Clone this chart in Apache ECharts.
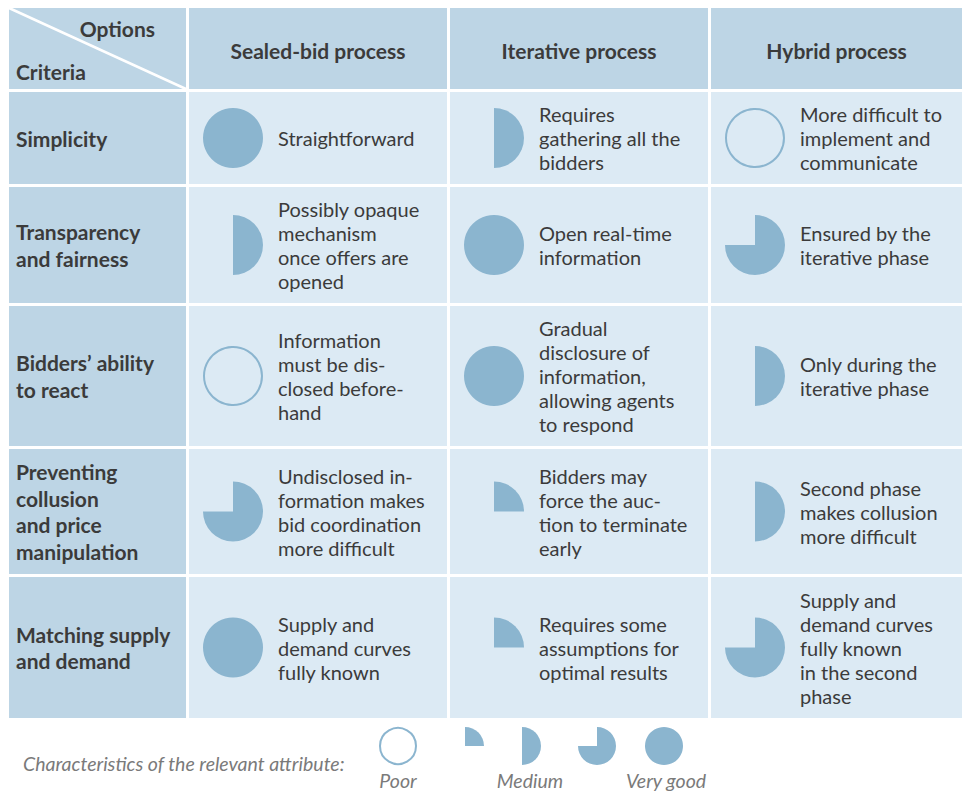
<!DOCTYPE html>
<html><head><meta charset="utf-8">
<script src="https://cdn.jsdelivr.net/npm/echarts@6/dist/echarts.min.js"></script>
<style>html,body{margin:0;padding:0;background:#fff}#c{width:962px;height:791px}</style>
</head><body><div id="c"></div>
<script>
// ---------- data ----------
const options = ['Sealed-bid process', 'Iterative process', 'Hybrid process'];
const criteria = ['Simplicity', 'Transparency\nand fairness', 'Bidders\u2019 ability\nto react', 'Preventing\ncollusion\nand price\nmanipulation', 'Matching supply\nand demand'];
// Harvey ball scores in quarters (0 = poor ... 4 = very good)
const sealedScores = [4, 2, 0, 3, 4];
const iterativeScores = [2, 4, 4, 1, 1];
const hybridScores = [0, 3, 2, 2, 3];
const sealedNotes = ['Straightforward', 'Possibly opaque\nmechanism\nonce offers are\nopened', 'Information\nmust be dis-\nclosed before-\nhand', 'Undisclosed in-\nformation makes\nbid coordination\nmore difficult', 'Supply and\ndemand curves\nfully known'];
const iterativeNotes = ['Requires\ngathering all the\nbidders', 'Open real-time\ninformation', 'Gradual\ndisclosure of\ninformation,\nallowing agents\nto respond', 'Bidders may\nforce the auc-\ntion to terminate\nearly', 'Requires some\nassumptions for\noptimal results'];
const hybridNotes = ['More difficult to\nimplement and\ncommunicate', 'Ensured by the\niterative phase', 'Only during the\niterative phase', 'Second phase\nmakes collusion\nmore difficult', 'Supply and\ndemand curves\nfully known\nin the second\nphase'];
const legendTitle = 'Characteristics of the relevant attribute:';
const legendLevels = [0, 1, 2, 3, 4];
const legendLabels = ['Poor', 'Medium', 'Very good'];
const cornerLabels = ['Options', 'Criteria'];

// ---------- layout (not data) ----------
const colEdges = [[9, 186], [189, 447], [450, 708], [711, 962]];
const rowEdges = [[8, 89], [92, 184], [187, 303], [306, 446], [449, 574], [577, 718]];
const ballOffset = 44, textOffset = 89, ballR = 30;
const legendBallX = [398, 465, 522, 597, 664], legendBallY = 746, legendR = 19;
const legendLabelX = [398, 530, 666], legendLabelY = 780;
const C = {head: '#bdd5e5', cell: '#dceaf4', ball: '#8bb5cf', text: '#3b3b3b', legend: '#7a7a7a'};
const FONT = 'Lato, "Open Sans", sans-serif';
const BOLD = 'bold 21px ' + FONT, BODY = '400 20px ' + FONT, ITAL = 'italic 400 19.5px ' + FONT;

const allScores = [sealedScores, iterativeScores, hybridScores];
const allNotes = [sealedNotes, iterativeNotes, hybridNotes];

// cells data
const cellData = [];
for (let r = 0; r < rowEdges.length; r++) for (let c = 0; c < colEdges.length; c++) cellData.push([c, r]);
const ballData = [];
allScores.forEach((arr, c) => arr.forEach((v, r) => ballData.push([c, r, v])));

function harvey(api, x, y, rData, n) {
  const p = api.coord([x, y]);
  const r = api.size([rData, 0])[0];
  if (n === 0) return {type: 'circle', shape: {cx: p[0], cy: p[1], r: r - 1}, style: {fill: 'none', stroke: C.ball, lineWidth: 2}};
  if (n >= 4) return {type: 'circle', shape: {cx: p[0], cy: p[1], r: r}, style: {fill: C.ball}};
  return {type: 'sector', shape: {cx: p[0], cy: p[1], r0: 0, r: r, startAngle: -Math.PI / 2, endAngle: -Math.PI / 2 + n * Math.PI / 2, clockwise: true}, style: {fill: C.ball}};
}
function rowMid(r) { return (rowEdges[r][0] + rowEdges[r][1]) / 2; }

const chart = echarts.init(document.getElementById('c'), null, {renderer: 'svg'});
chart.setOption({
  animation: false,
  backgroundColor: '#ffffff',
  grid: {left: 0, right: 0, top: 0, bottom: 0},
  xAxis: {type: 'value', min: 0, max: 962, show: false},
  yAxis: {type: 'value', min: 0, max: 791, inverse: true, show: false},
  series: [
    {
      type: 'custom', name: 'cells', data: cellData, silent: true,
      renderItem: function (params, api) {
        const c = api.value(0), r = api.value(1);
        const p0 = api.coord([colEdges[c][0], rowEdges[r][0]]);
        const p1 = api.coord([colEdges[c][1], rowEdges[r][1]]);
        const isHead = r === 0 || c === 0;
        const children = [{type: 'rect', shape: {x: p0[0], y: p0[1], width: p1[0] - p0[0], height: p1[1] - p0[1]}, style: {fill: isHead ? C.head : C.cell}}];
        if (r === 0 && c === 0) {
          children.push({type: 'line', shape: {x1: p0[0], y1: p0[1], x2: p1[0], y2: p1[1]}, style: {stroke: '#ffffff', lineWidth: 2.5}});
          const a = api.coord([155, 28]), b = api.coord([16, 71]);
          children.push({type: 'text', style: {text: cornerLabels[0], x: a[0], y: a[1], align: 'right', verticalAlign: 'middle', fill: C.text, font: BOLD}});
          children.push({type: 'text', style: {text: cornerLabels[1], x: b[0], y: b[1], align: 'left', verticalAlign: 'middle', fill: C.text, font: BOLD}});
        } else if (r === 0) {
          const m = api.coord([(colEdges[c][0] + colEdges[c][1]) / 2, 50]);
          children.push({type: 'text', style: {text: options[c - 1], x: m[0], y: m[1], align: 'center', verticalAlign: 'middle', fill: C.text, font: BOLD}});
        } else if (c === 0) {
          const m = api.coord([16, rowMid(r)]);
          children.push({type: 'text', style: {text: criteria[r - 1], x: m[0], y: m[1], align: 'left', verticalAlign: 'middle', fill: C.text, font: BOLD, lineHeight: 26.5}});
        } else {
          const m = api.coord([colEdges[c][0] + textOffset, rowMid(r)]);
          children.push({type: 'text', style: {text: allNotes[c - 1][r - 1], x: m[0], y: m[1], align: 'left', verticalAlign: 'middle', fill: C.text, font: BODY, lineHeight: 24}});
        }
        return {type: 'group', children: children};
      }
    },
    {
      type: 'custom', name: 'scores', data: ballData, silent: true, z: 3,
      renderItem: function (params, api) {
        const c = api.value(0), r = api.value(1), v = api.value(2);
        return harvey(api, colEdges[c + 1][0] + ballOffset, rowMid(r + 1), ballR, v);
      }
    },
    {
      type: 'custom', name: 'legend', data: legendLevels.map((v, i) => [i, v]), silent: true, z: 3,
      renderItem: function (params, api) {
        const i = api.value(0), v = api.value(1);
        const children = [harvey(api, legendBallX[i], legendBallY, legendR, v)];
        if (i === 0) {
          const t = api.coord([23, 763]);
          children.push({type: 'text', style: {text: legendTitle, x: t[0], y: t[1], align: 'left', verticalAlign: 'middle', fill: C.legend, font: ITAL}});
          legendLabels.forEach((lab, k) => {
            const q = api.coord([legendLabelX[k], legendLabelY]);
            children.push({type: 'text', style: {text: lab, x: q[0], y: q[1], align: 'center', verticalAlign: 'middle', fill: C.legend, font: ITAL, lineHeight: 18}});
          });
        }
        return {type: 'group', children: children};
      }
    }
  ]
});
</script></body></html>
